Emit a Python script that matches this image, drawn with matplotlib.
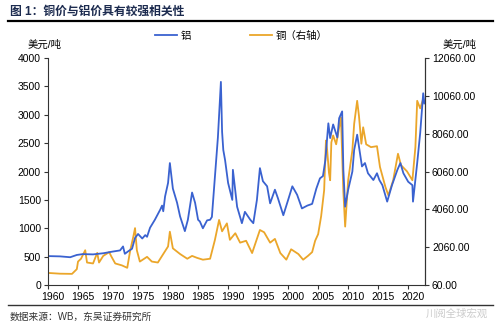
import matplotlib
matplotlib.use("Agg")
import matplotlib.pyplot as plt
import matplotlib.transforms as mtrans

plt.rcParams['font.family'] = ['Liberation Sans', 'Noto Sans CJK SC', 'DejaVu Sans']

# aluminium, USD/t (left axis)
al_year = [1960.0, 1962.0, 1963.7, 1964.8, 1965.8, 1967.5, 1969.2, 1970.8, 1972.0, 1972.5,
           1972.8, 1973.3, 1974.0, 1974.5, 1975.0, 1975.7, 1976.2, 1976.5, 1977.0, 1977.8,
           1978.7, 1979.0, 1979.2, 1979.5, 1980.0, 1980.3, 1980.8, 1981.5, 1982.0, 1982.8,
           1983.3, 1984.0, 1984.5, 1985.0, 1985.3, 1985.8, 1986.5, 1987.0, 1987.3, 1987.8,
           1988.3, 1988.8, 1989.0, 1989.2, 1989.5, 1990.0, 1990.7, 1990.8, 1991.5, 1992.3,
           1992.8, 1993.7, 1994.2, 1994.8, 1995.3, 1995.8, 1996.5, 1997.0, 1997.8, 1998.3,
           1999.2, 2000.0, 2000.7, 2001.5, 2002.3, 2003.2, 2004.0, 2004.7, 2005.3, 2005.8,
           2006.2, 2006.7, 2007.0, 2007.5, 2008.2, 2008.5, 2009.0, 2009.2, 2009.5, 2010.0,
           2010.7, 2011.0, 2011.5, 2012.0, 2012.3, 2012.8, 2013.3, 2014.2, 2014.8, 2015.2,
           2015.7, 2016.5, 2017.3, 2018.2, 2018.7, 2019.2, 2020.0, 2020.7, 2020.8, 2021.5,
           2022.0, 2022.5, 2022.7]
al_price = [510, 505, 490, 530, 545, 540, 560, 590, 610, 680,
            550, 590, 640, 830, 900, 820, 880, 850, 1010, 1150,
            1330, 1400, 1300, 1560, 1800, 2150, 1700, 1450, 1210, 950,
            1150, 1630, 1450, 1150, 1120, 1000, 1140, 1150, 1200, 1900,
            2600, 3580, 2700, 2380, 2200, 1800, 1500, 2030, 1380, 1090,
            1290, 1150, 1090, 1500, 2060, 1830, 1740, 1440, 1680, 1530,
            1230, 1500, 1740, 1590, 1350, 1400, 1430, 1700, 1880, 1920,
            2200, 2850, 2590, 2830, 2600, 2940, 3060, 2030, 1380, 1680,
            2000, 2380, 2650, 2300, 2090, 2150, 1970, 1850, 1970, 1850,
            1760, 1470, 1760, 2030, 2150, 1970, 1820, 1760, 1470, 2150,
            2680, 3380, 3200]

# copper, USD/t (right axis)
cu_year = [1960.0, 1962.0, 1964.0, 1964.8, 1965.0, 1965.5, 1966.2, 1966.5, 1967.5, 1968.2,
           1968.5, 1969.2, 1970.2, 1970.5, 1971.2, 1972.3, 1973.2, 1973.7, 1974.2, 1974.5,
           1974.8, 1975.3, 1976.5, 1977.3, 1978.3, 1979.2, 1980.0, 1980.3, 1980.8, 1982.0,
           1983.2, 1984.0, 1984.8, 1985.8, 1987.0, 1987.8, 1988.5, 1989.0, 1989.8, 1990.3,
           1991.2, 1992.0, 1993.0, 1994.0, 1995.3, 1996.0, 1997.0, 1997.8, 1998.7, 1999.7,
           2000.5, 2001.7, 2002.5, 2003.3, 2004.0, 2004.5, 2005.0, 2005.5, 2006.0, 2006.3,
           2006.5, 2006.8, 2007.0, 2007.2, 2007.5, 2008.0, 2008.8, 2009.2, 2009.5, 2010.0,
           2010.7, 2011.0, 2011.5, 2011.8, 2012.2, 2012.5, 2013.0, 2013.8, 2014.8, 2015.3,
           2016.2, 2016.7, 2017.5, 2018.3, 2018.8, 2019.8, 2020.7, 2021.2, 2021.5, 2022.0,
           2022.5, 2022.7]
cu_price = [700, 660, 650, 900, 1300, 1450, 1900, 1250, 1200, 1760,
            1250, 1600, 1800, 1600, 1200, 1100, 970, 1900, 2600, 3070,
            1900, 1300, 1550, 1300, 1250, 1700, 2100, 2880, 2000, 1700,
            1450, 1600, 1500, 1400, 1450, 2440, 3500, 2900, 3320, 2450,
            2800, 2300, 2400, 1750, 2970, 2850, 2300, 2500, 1750, 1400,
            1950, 1700, 1400, 1600, 1800, 2400, 2750, 3700, 5070, 7700,
            7200, 6000, 5600, 7600, 7970, 7500, 8930, 5000, 3150, 5600,
            7180, 8580, 9800, 9000, 7530, 8400, 7500, 7350, 7400, 6300,
            5250, 4800, 5600, 7000, 6400, 6070, 5600, 7350, 9800, 9400,
            9900, 9700]

year_ticks = list(range(1960, 2021, 5))
left_ticks = list(range(0, 4001, 500))
right_ticks = [60 + 2000 * i for i in range(7)]

blue = '#3a62d0'
orange = '#eba62a'

fig = plt.figure(figsize=(5.0, 3.28), dpi=100)
ax = fig.add_axes([0.096, 0.131, 0.754, 0.692])
ax2 = ax.twinx()

l1, = ax.plot(al_year, al_price, color=blue, lw=1.3, label='铝')
l2, = ax2.plot(cu_year, cu_price, color=orange, lw=1.3, label='铜（右轴）')
ax.set_zorder(ax2.get_zorder() + 1)
ax.patch.set_visible(False)

ax.set_xlim(1960, 2022.8)
ax.set_ylim(0, 4000)
ax2.set_ylim(60, 12060)
ax.set_xticks(year_ticks)
ax.set_yticks(left_ticks)
ax2.set_yticks(right_ticks)
ax2.set_yticklabels([f'{v:.2f}' for v in right_ticks])

for a in (ax, ax2):
    a.spines['top'].set_visible(False)
    for s in a.spines.values():
        s.set_color('#333333')
        s.set_linewidth(0.8)
    a.tick_params(labelsize=7.5, length=3, width=0.8, color='#333333', pad=2)
ax2.spines['left'].set_visible(False)
ax2.spines['bottom'].set_visible(False)

# shift year labels slightly right as in the source
off = mtrans.ScaledTranslation(5 / 100, 0, fig.dpi_scale_trans)
for lab in ax.get_xticklabels():
    lab.set_transform(lab.get_transform() + off)

fig.text(0.09, 0.862, '美元/吨', fontsize=7.5, ha='center', va='center')
fig.text(0.92, 0.862, '美元/吨', fontsize=7.5, ha='center', va='center')

fig.legend(handles=[l1, l2], loc='center left', bbox_to_anchor=(0.31, 0.89), ncol=2,
           frameon=False, fontsize=7.5, handlelength=2.1, columnspacing=5.6,
           handletextpad=0.4, borderpad=0, borderaxespad=0)

fig.text(0.02, 0.965, '图 1：铜价与铝价具有较强相关性', fontsize=8.5, fontweight='bold',
         color='#1c2b4f', va='center')
fig.add_artist(plt.Line2D([0.015, 0.985], [0.935, 0.935], color='black', lw=1.6))
fig.add_artist(plt.Line2D([0.015, 0.985], [0.07, 0.07], color='#333333', lw=1.0))
fig.text(0.02, 0.033, '数据来源：WB，东吴证券研究所', fontsize=7, color='#333333', va='center')
fig.text(0.975, 0.045, '川阅全球宏观', fontsize=7.5, color='#cccccc', va='center', ha='right')

fig.savefig('out.png', dpi=100)
